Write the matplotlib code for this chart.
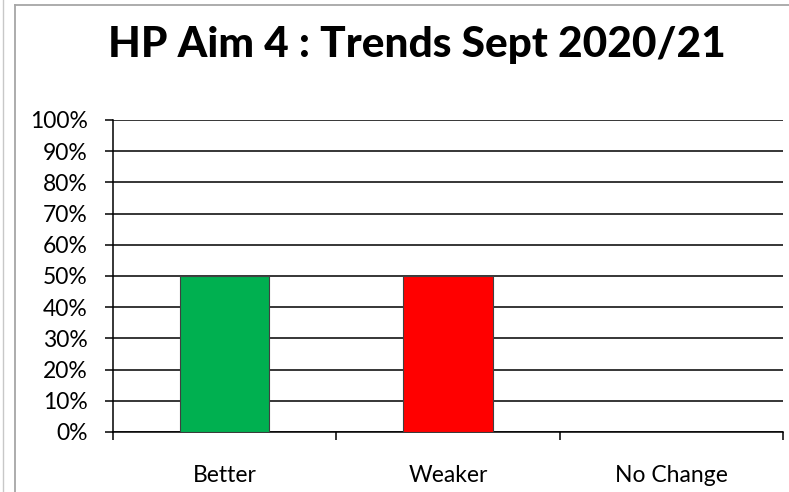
import matplotlib
matplotlib.use("Agg")
import matplotlib.pyplot as plt
from matplotlib.lines import Line2D
from matplotlib.ticker import FixedLocator, FuncFormatter

categories = ["Better", "Weaker", "No Change"]
shares = [0.50, 0.50, 0.0]
bar_colors = ["#00b050", "#ff0000", "#ff0000"]
title_text = "HP Aim 4 : Trends Sept 2020/21"
y_ticks = [i / 10 for i in range(11)]

W, H = 789, 492
DPI = 100
plt.rcParams["font.family"] = ["Lato", "DejaVu Sans"]

fig = plt.figure(figsize=(W / DPI, H / DPI), dpi=DPI)
fig.patch.set_facecolor("white")

# plot area in pixel coordinates
x0, x1 = 113, 783
y_top, y_bot = 120, 432
ax = fig.add_axes([x0 / W, (H - y_bot) / H, (x1 - x0) / W, (y_bot - y_top) / H])

pos = [i + 0.5 for i in range(len(categories))]
ax.bar(pos, shares, width=0.4, color=bar_colors, edgecolor="#404040",
       linewidth=0.8, zorder=3)

ax.set_xlim(0, len(categories))
ax.set_ylim(0, 1)

lw = 1.1
ax.yaxis.set_major_locator(FixedLocator(y_ticks))
ax.yaxis.set_major_formatter(FuncFormatter(lambda v, _: f"{v:.0%}"))
ax.grid(axis="y", color="black", linewidth=lw, zorder=1)
ax.set_axisbelow(True)

ax.xaxis.set_major_locator(FixedLocator(range(len(categories) + 1)))
ax.xaxis.set_major_formatter(FuncFormatter(lambda v, _: ""))
ax.xaxis.set_minor_locator(FixedLocator(pos))
ax.set_xticklabels(categories, minor=True)

ax.tick_params(axis="y", direction="out", length=5.8, width=lw, pad=12.5,
               labelsize=16.5, colors="black")
ax.tick_params(axis="x", which="major", direction="out", length=5.8, width=lw)
ax.tick_params(axis="x", which="minor", length=0, pad=23.5, labelsize=16.5)

for side in ("top", "right"):
    ax.spines[side].set_visible(False)
for side in ("left", "bottom"):
    ax.spines[side].set_linewidth(lw)
    ax.spines[side].set_color("black")

# chart frame lines
def px_line(xs, ys, color, width):
    fig.add_artist(Line2D([x / W for x in xs], [1 - y / H for y in ys],
                          color=color, linewidth=width, transform=fig.transFigure))

px_line([2.5, 2.5], [0, H], "#c8c8c8", 1.0)
px_line([14.5, 14.5], [4.5, H], "#a6a6a6", 1.3)
px_line([14.5, W], [4.5, 4.5], "#a6a6a6", 1.3)

fig.text(417 / W, 1 - 57 / H, title_text, ha="center", va="baseline",
         fontsize=30.5, fontweight="black", color="black")

fig.savefig("out.png", dpi=DPI, facecolor="white")
